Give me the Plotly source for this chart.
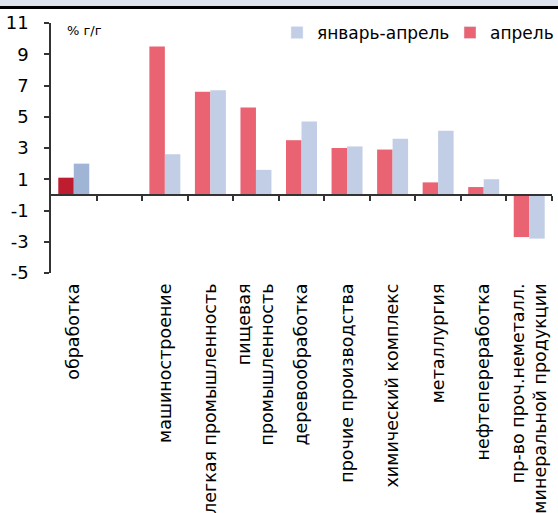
import plotly.graph_objects as go

categories = ["обработка", " ", "машиностроение", "легкая промышленность",
              "пищевая<br>промышленность", "деревообработка", "прочие производства",
              "химический комплекс", "металлургия", "нефтепереработка",
              "пр-во проч.неметалл.<br>минеральной продукции"]
april = [1.1, None, 9.5, 6.6, 5.6, 3.5, 3.0, 2.9, 0.8, 0.5, -2.7]
jan_apr = [2.0, None, 2.6, 6.7, 1.6, 4.7, 3.1, 3.6, 4.1, 1.0, -2.8]
series_names = ["январь-апрель", "апрель"]
y_ticks = [11, 9, 7, 5, 3, 1, -1, -3, -5]
y_tick_labels = ["11", "9", "7", "5", "3", "1", "-1", "-3", "-5"]

RED = "#E96373"
RED_DARK = "#BE1C2F"
BLUE = "#C2CEE6"
BLUE_DARK = "#A0B5D6"

x = list(range(len(categories)))
red_colors = [RED_DARK] + [RED] * (len(x) - 1)
blue_colors = [BLUE_DARK] + [BLUE] * (len(x) - 1)

FONT = "DejaVu Sans, Liberation Sans, Arial, sans-serif"

fig = go.Figure()
fig.add_trace(go.Bar(x=x, y=april, name=series_names[1], marker_color=red_colors,
                     marker_line_width=0, showlegend=False))
fig.add_trace(go.Bar(x=x, y=jan_apr, name=series_names[0], marker_color=blue_colors,
                     marker_line_width=0, showlegend=False))
# legend entries (drawn on the overlay axis so they do not affect bar grouping)
fig.add_trace(go.Bar(x=[None], y=[None], name=series_names[0], marker_color=BLUE,
                     xaxis="x2", hoverinfo="skip"))
fig.add_trace(go.Bar(x=[None], y=[None], name=series_names[1], marker_color=RED,
                     xaxis="x2", hoverinfo="skip"))

PLOT_TOP = 23
PLOT_H = 250


def py(px):
    """pixel row (from top of figure) -> paper y"""
    return 1 + (PLOT_TOP - px) / PLOT_H


fig.update_layout(
    width=558, height=513,
    margin=dict(l=51, r=6, t=PLOT_TOP, b=513 - PLOT_TOP - PLOT_H, autoexpand=False),
    paper_bgcolor="white", plot_bgcolor="white",
    barmode="group", bargap=0.32, bargroupgap=0,
    font=dict(family=FONT, size=16, color="black"),
    showlegend=True,
    legend=dict(orientation="h", traceorder="normal", x=277 / 558, xref="container",
                xanchor="left", y=1 - 33 / 513, yref="container", yanchor="middle",
                bgcolor="rgba(0,0,0,0)", font=dict(size=17), itemwidth=30,
                entrywidth=128, borderwidth=0),
    xaxis=dict(range=[-0.5, 10.5], tickmode="array", tickvals=x, ticktext=categories,
               tickangle=-90, ticks="", ticklabelstandoff=6,
               showline=False, showgrid=False, zeroline=False,
               tickfont=dict(size=17.5)),
    xaxis2=dict(range=[-0.5, 10.5], overlaying="x", anchor="free", position=5 / 16,
                side="bottom", showline=True, linecolor="#333", linewidth=2,
                tickmode="array", tickvals=[i + 0.5 for i in x],
                ticks="outside", ticklen=5, tickwidth=1.5, tickcolor="#333",
                showticklabels=False, showgrid=False, zeroline=False),
    yaxis=dict(range=[-5, 11], tickmode="array", tickvals=y_ticks,
               ticktext=y_tick_labels, ticks="outside", ticklen=5,
               tickwidth=1.5, tickcolor="#333", showline=True, linecolor="#333",
               linewidth=1.5, showgrid=False, zeroline=False,
               ticklabelstandoff=12, tickfont=dict(size=18)),
    shapes=[
        dict(type="rect", xref="paper", yref="paper", x0=-0.11, x1=1.02,
             y0=py(6), y1=py(-1), fillcolor="#DFE5F0", line_width=0, layer="above"),
        dict(type="line", xref="paper", yref="paper", x0=-0.11, x1=1.02,
             y0=py(7.5), y1=py(7.5), line=dict(color="black", width=3),
             layer="above"),
    ],
    annotations=[
        dict(text="% г/г", xref="paper", yref="paper", x=(66 - 51) / 501,
             y=py(30), xanchor="left", yanchor="middle",
             showarrow=False, font=dict(size=13), borderpad=0),
    ],
)

fig.write_html("out.html", config={"displayModeBar": False},
               post_script="document.body.style.margin='0';")
